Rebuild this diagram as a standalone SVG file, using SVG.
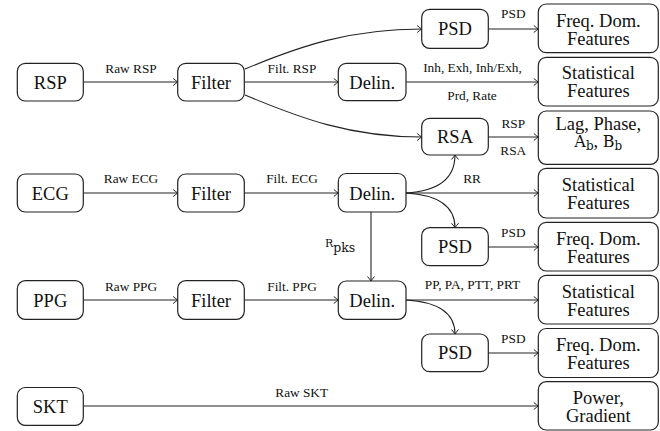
<svg xmlns="http://www.w3.org/2000/svg" width="660" height="431" viewBox="0 0 660 431" font-family="'Liberation Serif', 'Times New Roman', Times, serif">
<style>
.box{fill:#fff;stroke:#222;stroke-width:1.2}
.t{font-size:18.5px;fill:#111;text-anchor:middle}
.e{font-size:13.3px;fill:#111;text-anchor:middle}
.c{fill:none;stroke:#222;stroke-width:1.1;marker-end:url(#arr)}
</style>
<defs>
<marker id="arr" markerUnits="userSpaceOnUse" viewBox="-6 -5 7 10" refX="0" refY="0" markerWidth="7" markerHeight="10" orient="auto">
<path d="M-4.5,-3.5 Q-1.5,-1 0,0 Q-1.5,1 -4.5,3.5" fill="none" stroke="#222" stroke-width="1"/>
</marker>
</defs>
<rect width="660" height="431" fill="#fff"/>
<g id="connectors">
<path class="c" d="M83.3,82 H177.7"/>
<path class="c" d="M244.3,82 H338.3"/>
<path class="c" d="M245,69 C300,46 350,29 421.7,29"/>
<path class="c" d="M245,95 C300,118 350,137 421.7,137"/>
<path class="c" d="M406,82 H538.3"/>
<path class="c" d="M488.3,29 H538.3"/>
<path class="c" d="M488.3,137 H538.3"/>
<path class="c" d="M83.3,193 H177.7"/>
<path class="c" d="M244.3,193 H338.3"/>
<path class="c" d="M406,193 H538.3"/>
<path class="c" d="M406,193 C440,191 455,178 455,155"/>
<path class="c" d="M406,193 C440,195 455,208 455,227.7"/>
<path class="c" d="M488.3,247 H538.3"/>
<path class="c" d="M371,212 V281"/>
<path class="c" d="M83.3,300 H177.7"/>
<path class="c" d="M244.3,300 H338.3"/>
<path class="c" d="M406,300 H538.3"/>
<path class="c" d="M406,300 C440,302 455,314 455,334"/>
<path class="c" d="M488.3,353 H538.3"/>
<path class="c" d="M83.3,406 H538.3"/>
<text class="e" x="131" y="72.5">Raw RSP</text>
<text class="e" x="292" y="72.5">Filt. RSP</text>
<text class="e" x="513.3" y="17.5">PSD</text>
<text class="e" x="472.5" y="71.5">Inh, Exh, Inh/Exh,</text>
<text class="e" x="472" y="100">Prd, Rate</text>
<text class="e" x="513.3" y="127.5">RSP</text>
<text class="e" x="513.3" y="155">RSA</text>
<text class="e" x="131" y="183.3">Raw ECG</text>
<text class="e" x="292" y="183.3">Filt. ECG</text>
<text class="e" x="472" y="183.3">RR</text>
<text class="e" x="513.3" y="236.7">PSD</text>
<text x="325" y="246.5" font-size="11" fill="#111" font-family="'DejaVu Serif', serif">R<tspan dy="5" font-size="12.5">pks</tspan></text>
<text class="e" x="131" y="291">Raw PPG</text>
<text class="e" x="292" y="291">Filt. PPG</text>
<text class="e" x="472.5" y="289">PP, PA, PTT, PRT</text>
<text class="e" x="513.3" y="343.3">PSD</text>
<text class="e" x="301.7" y="396.7">Raw SKT</text>
</g>
<g id="rsp"><rect class="box" x="17.3" y="63.3" width="66" height="37.7" rx="8"/><text class="t" x="50.3" y="88.5">RSP</text></g>
<g id="filter-rsp"><rect class="box" x="177.7" y="63.3" width="66.6" height="37.7" rx="8"/><text class="t" x="211" y="88.5">Filter</text></g>
<g id="delin-rsp"><rect class="box" x="338.3" y="63.3" width="67.7" height="37.4" rx="8"/><text class="t" x="372.2" y="88.5">Delin.</text></g>
<g id="psd-rsp"><rect class="box" x="421.7" y="9.3" width="66.6" height="39" rx="8"/><text class="t" x="455" y="35.3">PSD</text></g>
<g id="rsa"><rect class="box" x="421.7" y="118.3" width="66.6" height="36.7" rx="8"/><text class="t" x="455" y="143.2">RSA</text></g>
<g id="freq1"><rect class="box" x="538.3" y="4" width="120" height="48.7" rx="8"/><text class="t" x="598.3" y="26.7">Freq. Dom.</text><text class="t" x="598.3" y="45">Features</text></g>
<g id="stat1"><rect class="box" x="538.3" y="57.3" width="120" height="48.7" rx="8"/><text class="t" x="598.3" y="79">Statistical</text><text class="t" x="598.3" y="97">Features</text></g>
<g id="lag"><rect class="box" x="538.3" y="111" width="120" height="53.3" rx="8"/><text class="t" x="598.3" y="130">Lag, Phase,</text><text class="t" x="598.3" y="146.5"><tspan font-family="'DejaVu Serif', serif" font-size="16">A</tspan><tspan font-family="'DejaVu Serif', serif" font-size="12" dy="3">b</tspan><tspan dy="-3">, </tspan><tspan font-family="'DejaVu Serif', serif" font-size="16">B</tspan><tspan font-family="'DejaVu Serif', serif" font-size="12" dy="3">b</tspan></text></g>
<g id="ecg"><rect class="box" x="17.3" y="174" width="66" height="38" rx="8"/><text class="t" x="50.3" y="199.5">ECG</text></g>
<g id="filter-ecg"><rect class="box" x="177.7" y="174" width="66.6" height="38" rx="8"/><text class="t" x="211" y="199.5">Filter</text></g>
<g id="delin-ecg"><rect class="box" x="338.3" y="173.5" width="67.7" height="38.5" rx="8"/><text class="t" x="372.2" y="199.5">Delin.</text></g>
<g id="stat2"><rect class="box" x="538.3" y="168.3" width="120" height="49.7" rx="8"/><text class="t" x="598.3" y="191">Statistical</text><text class="t" x="598.3" y="209">Features</text></g>
<g id="psd-ecg"><rect class="box" x="421.7" y="227.7" width="66.6" height="38" rx="8"/><text class="t" x="455" y="253">PSD</text></g>
<g id="freq2"><rect class="box" x="538.3" y="222.3" width="120" height="48.7" rx="8"/><text class="t" x="598.3" y="245">Freq. Dom.</text><text class="t" x="598.3" y="263">Features</text></g>
<g id="ppg"><rect class="box" x="17.3" y="280.7" width="66" height="38.6" rx="8"/><text class="t" x="50.3" y="306.5">PPG</text></g>
<g id="filter-ppg"><rect class="box" x="177.7" y="280.7" width="66.6" height="38.6" rx="8"/><text class="t" x="211" y="306.5">Filter</text></g>
<g id="delin-ppg"><rect class="box" x="338.3" y="281" width="67.7" height="38.3" rx="8"/><text class="t" x="372.2" y="306.5">Delin.</text></g>
<g id="stat3"><rect class="box" x="538.3" y="275.3" width="120" height="48.7" rx="8"/><text class="t" x="598.3" y="297.5">Statistical</text><text class="t" x="598.3" y="315.5">Features</text></g>
<g id="psd-ppg"><rect class="box" x="421.7" y="334" width="66.6" height="37.7" rx="8"/><text class="t" x="455" y="359">PSD</text></g>
<g id="freq3"><rect class="box" x="538.3" y="328.5" width="120" height="49" rx="8"/><text class="t" x="598.3" y="351">Freq. Dom.</text><text class="t" x="598.3" y="369">Features</text></g>
<g id="skt"><rect class="box" x="17.3" y="387.5" width="66" height="37.8" rx="8"/><text class="t" x="50.3" y="413">SKT</text></g>
<g id="power"><rect class="box" x="538.3" y="381.7" width="120" height="48.3" rx="8"/><text class="t" x="598.3" y="404">Power,</text><text class="t" x="598.3" y="422">Gradient</text></g>
</svg>
